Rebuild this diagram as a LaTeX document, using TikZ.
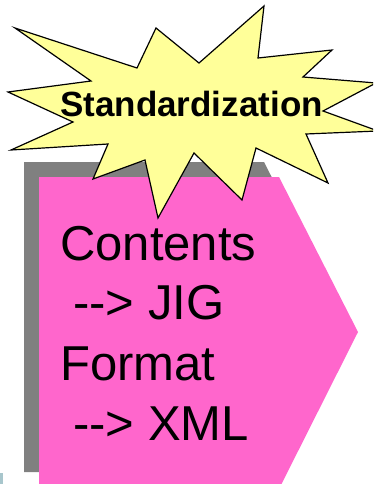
\documentclass[tikz,border=0pt]{standalone}
\usepackage{fontspec}
\setmainfont{Liberation Sans}
\definecolor{boxpink}{HTML}{FF66CC}
\definecolor{shadowgray}{HTML}{808080}
\definecolor{burstyellow}{HTML}{FFFF99}
\definecolor{edgeblue}{RGB}{168,198,204}
\begin{document}
\begin{tikzpicture}[x=1pt,y=-1pt,
  bodytext/.style={anchor=base west,inner sep=0pt,font=\fontsize{49}{58}\selectfont},
  bursttext/.style={anchor=base,inner sep=0pt,font=\bfseries\fontsize{35}{42}\selectfont}]
\useasboundingbox (0,0) rectangle (373,484);
\clip (0,0) rectangle (373,484);
% small fragment at the lower left corner
\fill[edgeblue] (0,473) rectangle (3,484);
% drop shadow of the pentagon
\fill[shadowgray] (24,162) -- (264,162) -- (343,317) -- (265,472) -- (24,472) -- cycle;
% pink pentagon arrow
\fill[boxpink] (39,177) -- (279,177) -- (358,332) -- (280,487) -- (39,487) -- cycle;
% explosion shape
\filldraw[fill=burstyellow,draw=black,line width=1.2pt,line join=miter]
  (15,28) -- (137,68) -- (156,28) -- (199,63) -- (264,6) -- (258,58)
  -- (332,50) -- (303,77) -- (376,83) -- (323,111) -- (378,131) -- (306,134)
  -- (328,183) -- (256,148) -- (242,200) -- (194,153) -- (158,218) -- (145,160)
  -- (93,179) -- (108,144) -- (11,150) -- (73,122) -- (8,92) -- (91,81) -- cycle;
\node[bursttext] (std) at (191.5,117) {Standardization};
% contents of the pentagon
\node[bodytext] (l1) at (60,260) {Contents};
\node[bodytext] (l2) at (73,319) {-{}-{}> JIG};
\node[bodytext] (l3) at (60,380) {Format};
\node[bodytext] (l4) at (73,440) {-{}-{}> XML};
\end{tikzpicture}
\end{document}
